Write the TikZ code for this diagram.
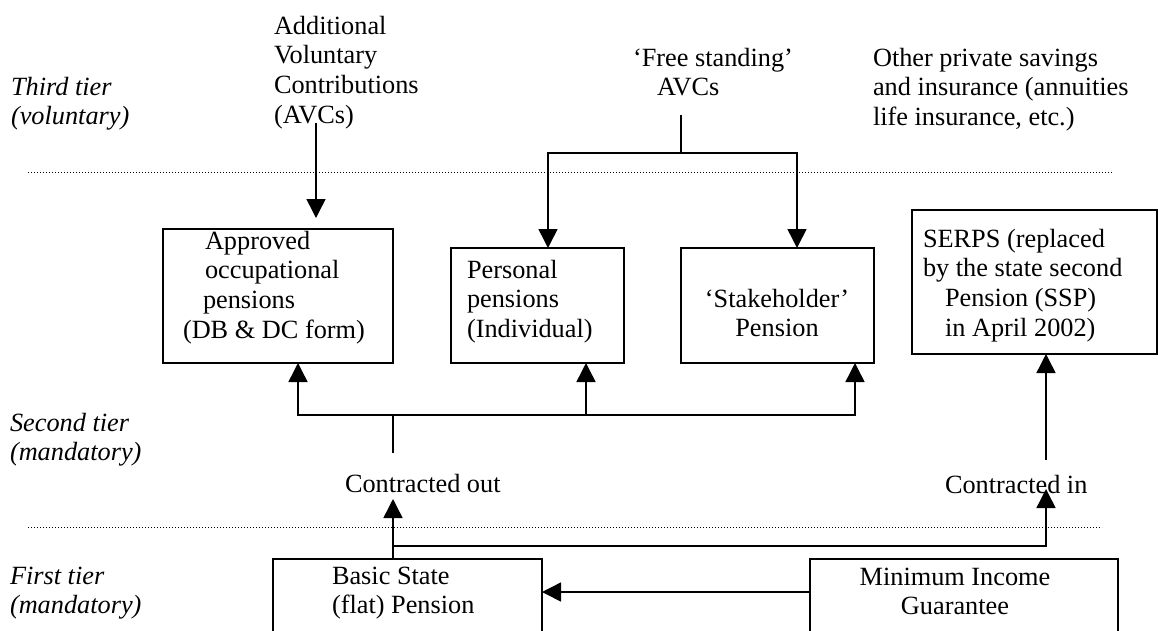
\documentclass[tikz,border=0pt]{standalone}
\usepackage{fontspec}
\setmainfont{Liberation Serif}
\usetikzlibrary{arrows.meta}
\begin{document}
\begin{tikzpicture}[x=1pt,y=-1pt,
  every node/.style={font=\fontsize{26.3}{29.7}\selectfont, inner sep=0pt, outer sep=0pt},
  txt/.style={align=left, anchor=base west},
  ctxt/.style={align=center, anchor=base},
  tier/.style={txt, font=\fontsize{26.3}{29.7}\selectfont\itshape},
  box/.style={draw, line width=1.5pt, anchor=north west, inner sep=0pt},
  conn/.style={line width=1.5pt},
  arr/.style={conn, -{Triangle[length=19pt,width=19pt]}},
  tierline/.style={line width=1pt, dash pattern=on 1pt off 2pt}
]
\useasboundingbox (0,0) rectangle (1158,630);
\clip (0,0) rectangle (1158,630);

% tier separators
\draw[tierline] (28,172) -- (1113,172);
\draw[tierline] (28,527) -- (1102,527);

% tier labels (anchored at the baseline of the last line)
\node[tier] (t3) at (11,124.7) {Third tier\\(voluntary)};
\node[tier] (t2) at (10,460.7) {Second tier\\(mandatory)};
\node[tier] (t1) at (10,613.7) {First tier\\(mandatory)};

% third tier texts
\node[txt] (avc) at (274,123.1) {Additional\\Voluntary\\Contributions\\(AVCs)};
\node[txt] (fs) at (633,95.7) {`Free standing'\\\hspace*{24pt}AVCs};
\node[txt] (other) at (873,125.4) {Other private savings\\and insurance (annuities\\life insurance, etc.)};

% boxes
\node[box, minimum width=230pt, minimum height=134pt] (approved) at (163,229) {};
\node[box, minimum width=173pt, minimum height=115pt] (personal) at (451,248) {};
\node[box, minimum width=193pt, minimum height=115pt] (stake) at (681,248) {};
\node[box, minimum width=245pt, minimum height=144pt] (serps) at (912,210) {};
\node[box, minimum width=269pt, minimum height=100pt] (basic) at (273,559) {};
\node[box, minimum width=308pt, minimum height=100pt] (minimum) at (810,559) {};

% box texts
\node[txt] (approvedtxt) at (183,338.1) {\hspace*{22pt}Approved\\\hspace*{22pt}occupational\\\hspace*{20pt}pensions\\(DB \& DC form)};
\node[txt] (personaltxt) at (467,337.4) {Personal\\pensions\\(Individual)};
\node[ctxt] (staketxt) at (777,336.7) {`Stakeholder'\\Pension};
\node[txt] (serpstxt) at (923,336.1) {SERPS (replaced\\by the state second\\\hspace*{22pt}Pension (SSP)\\\hspace*{22pt}in April 2002)};
\node[txt] (basictxt) at (332,613.7) {Basic State\\(flat) Pension};
\node[ctxt] (mintxt) at (955,614.7) {Minimum Income\\Guarantee};
\node[txt] (cout) at (345,492) {Contracted out};
\node[txt] (cin) at (945,493) {Contracted in};

% connector points
\coordinate (avcfoot) at (316,123);
\coordinate (fsfoot) at (681,115);
\coordinate (fsj) at (681,153);
\coordinate (cotop) at (393,453);
\coordinate (coj) at (393,415);
\coordinate (cotip) at (393,499);
\coordinate (lowj) at (393,546);
\coordinate (citip) at (1046,489);
\coordinate (citop) at (1046,460);
\coordinate (miny) at (0,592);

% third tier arrows
\draw[arr] (avcfoot) -- ([yshift=11pt]avcfoot |- approved.north);
\draw[conn] (fsfoot) -- (fsj);
\draw[arr] (fsj) -| ([xshift=10.5pt]personal.north);
\draw[arr] (fsj) -| ([xshift=19.5pt]stake.north);

% contracted out
\draw[conn] (cotop) -- (coj);
\draw[arr] (coj) -| ([xshift=20pt]approved.south);
\draw[arr] (coj) -| ([xshift=48.5pt]personal.south);
\draw[arr] (coj) -| ([xshift=77.5pt]stake.south);
\draw[arr] (cotip |- basic.north) -- (cotip);
\draw[arr] (lowj) -| (citip);

% contracted in
\draw[arr] (citop) -- (citop |- serps.south);

% minimum income guarantee to basic state pension
\draw[arr] (minimum.west |- miny) -- (basic.east |- miny);
\end{tikzpicture}
\end{document}
